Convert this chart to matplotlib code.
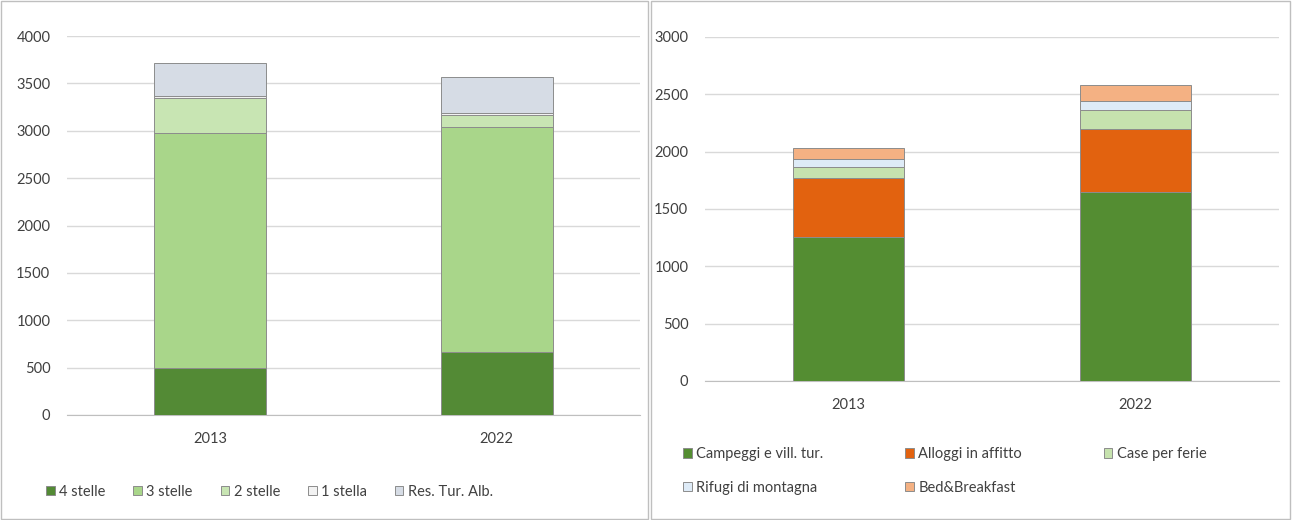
import numpy as np
import matplotlib.pyplot as plt
from matplotlib.patches import Rectangle

plt.rcParams['font.family'] = ['Lato', 'DejaVu Sans']

# data
years = ['2013', '2022']

alb_labels = ['4 stelle', '3 stelle', '2 stelle', '1 stella', 'Res. Tur. Alb.']
alb_values = [
    [500, 670],     # 4 stelle
    [2480, 2370],   # 3 stelle
    [370, 125],     # 2 stelle
    [20, 20],       # 1 stella
    [340, 385],     # Res. Tur. Alb.
]
alb_colors = ['#538a35', '#a9d68a', '#c8e5b3', '#f2f2f2', '#d6dce5']

ext_labels = ['Campeggi e vill. tur.', 'Alloggi in affitto', 'Case per ferie',
              'Rifugi di montagna', 'Bed&Breakfast']
ext_values = [
    [1260, 1645],   # Campeggi
    [510, 555],     # Alloggi in affitto
    [100, 160],     # Case per ferie
    [70, 80],       # Rifugi
    [90, 140],      # B&B
]
ext_colors = ['#548d32', '#e2620f', '#c6e2ae', '#deebf7', '#f4b183']

W, H = 1292, 520
fig = plt.figure(figsize=(W / 100, H / 100), dpi=100)

# panel borders
for x0, x1 in [(1, 648), (651, 1290)]:
    fig.patches.append(Rectangle((x0 / W, 1 / H), (x1 - x0) / W, (H - 2) / H,
                                 transform=fig.transFigure, fill=False,
                                 edgecolor='#bfbfbf', lw=1))


def stacked(ax, values, colors, labels, ymax, step):
    x = np.arange(len(years))
    bottom = np.zeros(len(years))
    handles = []
    for vals, c, lab in zip(values, colors, labels):
        b = ax.bar(x, vals, width=0.39, bottom=bottom, color=c,
                   edgecolor='#8c8c8c', linewidth=0.7, label=lab, zorder=3)
        handles.append(b)
        bottom += np.array(vals)
    ax.set_xlim(-0.5, 1.5)
    ax.set_ylim(0, ymax)
    ax.set_yticks(np.arange(0, ymax + 1, step))
    ax.set_xticks(x)
    ax.set_xticklabels(years)
    ax.grid(axis='y', color='#d9d9d9', lw=1, zorder=0)
    for s in ['top', 'right', 'left']:
        ax.spines[s].set_visible(False)
    ax.spines['bottom'].set_color('#bfbfbf')
    ax.tick_params(length=0, labelsize=10.5, colors='#404040')
    ax.tick_params(axis='x', pad=12)
    ax.tick_params(axis='y', pad=12)
    return handles


# left chart
ax1 = fig.add_axes([67 / W, (H - 415) / H, 573 / W, 379 / H])
h1 = stacked(ax1, alb_values, alb_colors, alb_labels, 4000, 500)
fig.legend(h1, alb_labels, loc='center left', bbox_to_anchor=(33 / W, 1 - 492 / H),
           ncol=5, frameon=False, fontsize=10.5, handlelength=0.6,
           handleheight=0.6, handletextpad=0.3, columnspacing=1.9,
           labelcolor='#404040')

# right chart
ax2 = fig.add_axes([705 / W, (H - 381) / H, 574 / W, 344 / H])
h2 = stacked(ax2, ext_values, ext_colors, ext_labels, 3000, 500)
# legend is filled row by row in the reference
order = [0, 3, 1, 4, 2]
fig.legend([h2[i] for i in order], [ext_labels[i] for i in order],
           loc='upper left', bbox_to_anchor=(670 / W, 1 - 434 / H),
           ncol=3, frameon=False, fontsize=10.5, handlelength=0.6,
           handleheight=0.6, handletextpad=0.3, columnspacing=5.6,
           labelspacing=1.35, labelcolor='#404040')

fig.savefig('out.png', dpi=100)
